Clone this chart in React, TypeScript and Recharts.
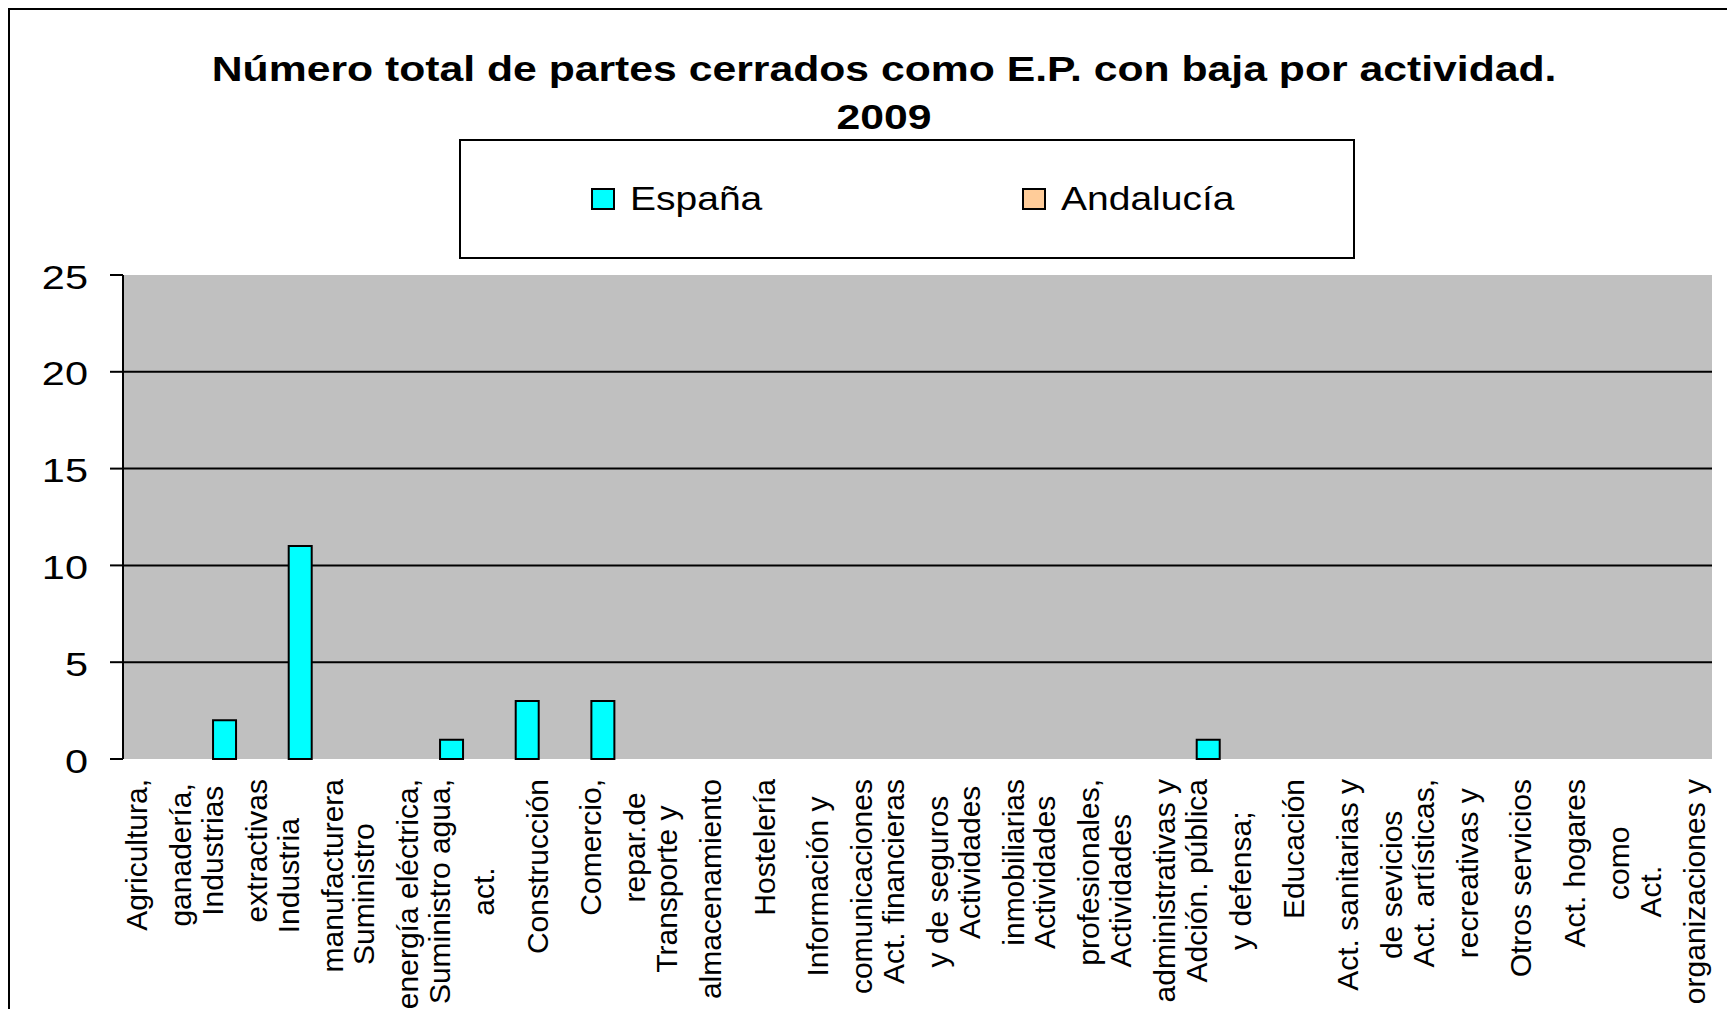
import React from "react";
import { BarChart, Bar, XAxis, YAxis, CartesianGrid, Legend } from "recharts";

// Excel-style export: labels wrapped into two lines, rest of the text cut off
const categories = [
  "Agricultura,\nganadería,",
  "Industrias\nextractivas",
  "Industria\nmanufacturera",
  "Suministro\nenergía eléctrica,",
  "Suministro agua,\nact.",
  "Construcción",
  "Comercio,\nrepar.de",
  "Transporte y\nalmacenamiento",
  "Hostelería",
  "Información y\ncomunicaciones",
  "Act. financieras\ny de seguros",
  "Actividades\ninmobiliarias",
  "Actividades\nprofesionales,",
  "Actividades\nadministrativas y",
  "Adción. pública\ny defensa;",
  "Educación",
  "Act. sanitarias y\nde sevicios",
  "Act. artísticas,\nrecreativas y",
  "Otros servicios",
  "Act. hogares\ncomo",
  "Act.\norganizaciones y",
];

const espana = [0, 2, 11, 0, 1, 3, 3, 0, 0, 0, 0, 0, 0, 0, 1, 0, 0, 0, 0, 0, 0];
const andalucia = [0, 0, 0, 0, 0, 0, 0, 0, 0, 0, 0, 0, 0, 0, 0, 0, 0, 0, 0, 0, 0];

const seriesNames = ["España", "Andalucía"];
const yTicks = [0, 5, 10, 15, 20, 25];
const gridValues = [5, 10, 15, 20];

const titleLines = ["Número total de partes cerrados como E.P. con baja por actividad.", "2009"];

const FONT = '"Liberation Sans", Arial, sans-serif';
const LABEL_SIZE = 30;
const STRETCH = 1.22;

const data = categories.map((name, i) => ({
  name,
  pos: i + 0.5,
  espana: espana[i],
  andalucia: andalucia[i],
}));

// tick marks sit between categories, like Excel
const edgeTicks = [...categories.map((_, i) => i), categories.length];

let ctx: CanvasRenderingContext2D | null = null;
function textWidth(s: string) {
  if (!ctx) ctx = document.createElement("canvas").getContext("2d");
  if (!ctx) return s.length * LABEL_SIZE * 0.5;
  ctx.font = `${LABEL_SIZE}px "Liberation Sans"`;
  return ctx.measureText(s).width;
}

function XTick({ x, y, payload }: any) {
  const lines = String(payload.value).split("\n");
  const maxW = Math.max(...lines.map(textWidth));
  const cy = y + maxW / 2;
  return (
    <g>
      {lines.map((l, i) => (
        <text
          key={i}
          transform={`translate(${x + (i - (lines.length - 1) / 2) * 44 - 2},${cy}) rotate(-90)`}
          textAnchor="middle"
          dominantBaseline="central"
          fontSize={LABEL_SIZE}
          fontFamily={FONT}
          fill="#000"
        >
          {l}
        </text>
      ))}
    </g>
  );
}

function YTick({ x, y, payload }: any) {
  return (
    <text
      transform={`translate(${x},${y + 2}) scale(${STRETCH},1)`}
      textAnchor="end"
      dominantBaseline="central"
      fontSize={34}
      fontFamily={FONT}
      fill="#000"
    >
      {payload.value}
    </text>
  );
}

function renderLegend({ payload }: any) {
  const items = [...(payload || [])].sort(
    (a: any, b: any) => seriesNames.indexOf(a.value) - seriesNames.indexOf(b.value)
  );
  return (
    <div
      style={{
        position: "relative",
        width: 896,
        height: 120,
        border: "2px solid #000",
        boxSizing: "border-box",
        background: "#fff",
        fontFamily: FONT,
      }}
    >
      {items.map((p: any, i: number) => (
        <div
          key={p.value}
          style={{
            position: "absolute",
            left: 130 + i * 431,
            top: 40,
            height: 36,
            display: "flex",
            alignItems: "center",
          }}
        >
          <span
            style={{
              width: 24,
              height: 22,
              background: p.color,
              border: "2px solid #000",
              boxSizing: "border-box",
              marginRight: 15,
            }}
          />
          <span
            style={{
              display: "inline-block",
              fontSize: 32.5,
              color: "#000",
              whiteSpace: "nowrap",
              transform: "scaleX(1.2)",
              transformOrigin: "left center",
            }}
          >
            {p.value}
          </span>
        </div>
      ))}
    </div>
  );
}

export default function App() {
  return (
    <div
      style={{
        position: "relative",
        width: 1719,
        height: 1001,
        borderTop: "2px solid #000",
        borderLeft: "2px solid #000",
        boxSizing: "border-box",
        background: "#fff",
        fontFamily: FONT,
        overflow: "hidden",
      }}
    >
      <BarChart
        width={1717}
        height={999}
        data={data}
        margin={{ top: 265, right: 15, left: 10, bottom: 10 }}
        barCategoryGap="19%"
        barGap={0}
      >
        <CartesianGrid
          vertical={false}
          horizontalValues={gridValues}
          fill="#C0C0C0"
          fillOpacity={1}
          stroke="#000"
          strokeWidth={2}
        />
        <XAxis
          xAxisId="edges"
          type="number"
          dataKey="pos"
          domain={[0, categories.length]}
          ticks={edgeTicks}
          interval={0}
          height={0}
          tickSize={11}
          tick={false}
          axisLine={{ stroke: "#000", strokeWidth: 2 }}
          tickLine={{ stroke: "#000", strokeWidth: 2 }}
        />
        <XAxis
          dataKey="name"
          interval={0}
          height={240}
          tickSize={0}
          tickMargin={20}
          axisLine={false}
          tickLine={false}
          tick={<XTick />}
        />
        <XAxis
          xAxisId="top"
          orientation="top"
          dataKey="name"
          height={0}
          tick={false}
          tickLine={false}
          axisLine={{ stroke: "#808080", strokeWidth: 2 }}
        />
        <YAxis
          domain={[0, 25]}
          ticks={yTicks}
          interval={0}
          width={103}
          tickSize={13}
          tickMargin={22}
          axisLine={{ stroke: "#000", strokeWidth: 2 }}
          tickLine={{ stroke: "#000", strokeWidth: 2 }}
          tick={<YTick />}
        />
        <YAxis
          yAxisId="right"
          orientation="right"
          width={0}
          tick={false}
          tickLine={false}
          axisLine={{ stroke: "#808080", strokeWidth: 2 }}
        />
        <Legend
          layout="horizontal"
          verticalAlign="middle"
          align="center"
          wrapperStyle={{ top: 129, left: 449, width: 896, height: 120 }}
          content={renderLegend}
        />
        <Bar dataKey="espana" name="España" fill="#00FFFF" stroke="#000" strokeWidth={2} isAnimationActive={false} />
        <Bar dataKey="andalucia" name="Andalucía" fill="#FFCC99" stroke="#000" strokeWidth={2} isAnimationActive={false} />
      </BarChart>
      <div
        style={{
          position: "absolute",
          left: 0,
          top: 35,
          width: 1748,
          textAlign: "center",
          fontSize: 35,
          fontWeight: "bold",
          lineHeight: "48px",
          color: "#000",
        }}
      >
        {titleLines.map((t) => (
          <div key={t}>
            <span style={{ display: "inline-block", whiteSpace: "nowrap", transform: `scaleX(${STRETCH})` }}>{t}</span>
          </div>
        ))}
      </div>
    </div>
  );
}
